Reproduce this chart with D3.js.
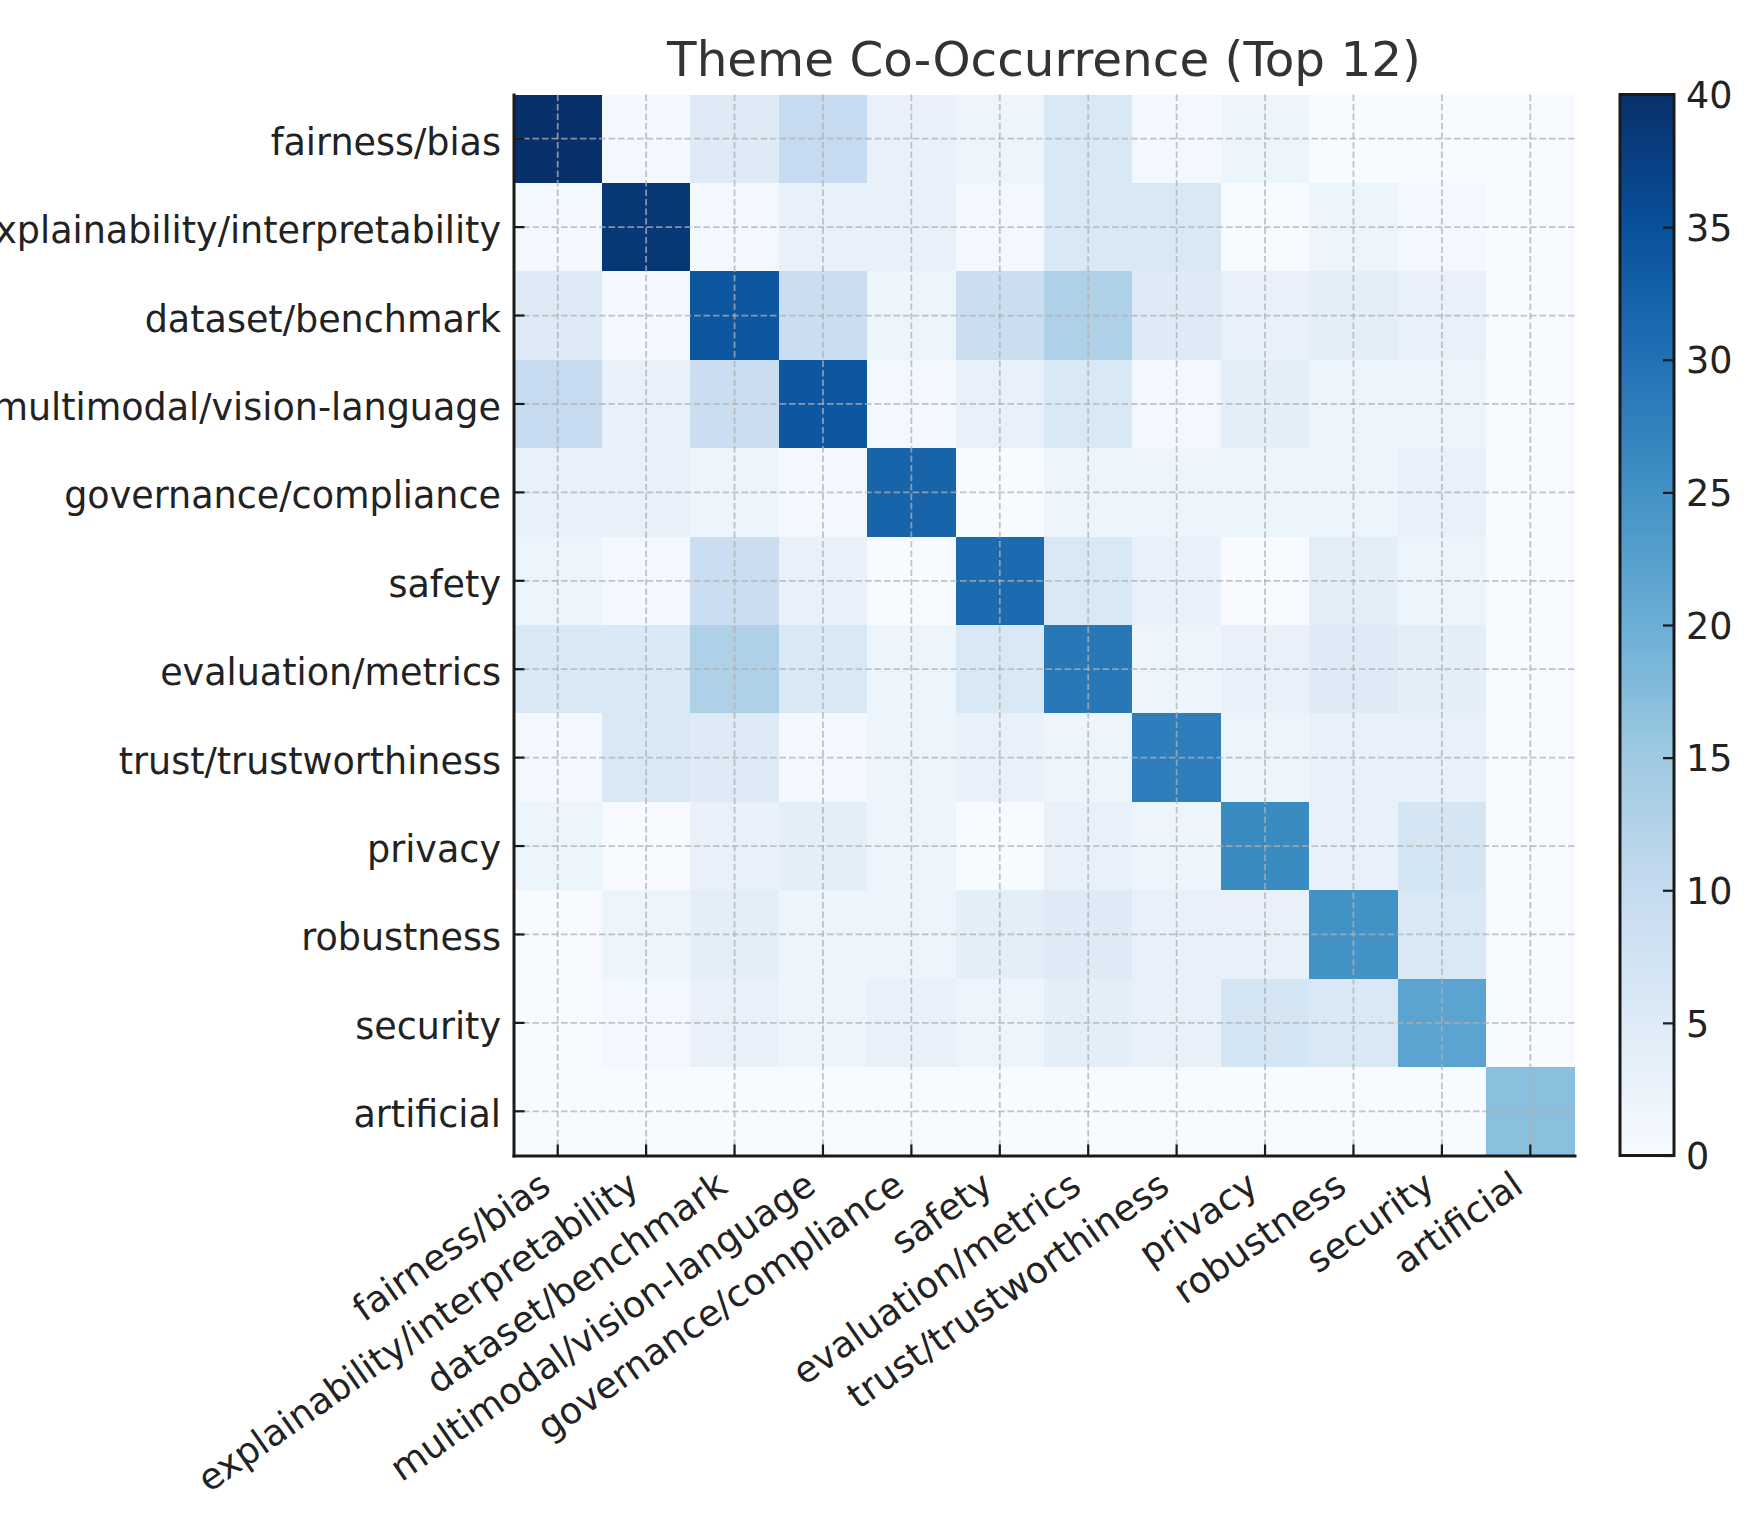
<!DOCTYPE html>
<html>
<head>
<meta charset="utf-8">
<script src="https://cdn.jsdelivr.net/npm/d3@7"></script>
<style>
  body { margin: 0; background: #ffffff; }
  svg { display: block; }
  text { font-family: "DejaVu Sans", "Noto Sans", sans-serif; }
</style>
</head>
<body>
<div id="chart"></div>
<script>
// ---------------- data ----------------
const titleText = "Theme Co-Occurrence (Top 12)";
const themes = [
  "fairness/bias",
  "explainability/interpretability",
  "dataset/benchmark",
  "multimodal/vision-language",
  "governance/compliance",
  "safety",
  "evaluation/metrics",
  "trust/trustworthiness",
  "privacy",
  "robustness",
  "security",
  "artificial"
];
// co-occurrence counts, row = y theme, column = x theme
const coOccurrence = [
  [40,  1,  5, 10,  3,  2,  6,  1,  2,  0,  0,  0],
  [ 1, 39,  1,  3,  3,  1,  6,  6,  0,  2,  1,  0],
  [ 5,  1, 34,  9,  2,  9, 13,  5,  3,  4,  3,  0],
  [10,  3,  9, 34,  1,  3,  6,  1,  4,  2,  2,  0],
  [ 3,  3,  2,  1, 32,  0,  2,  2,  2,  2,  3,  0],
  [ 2,  1,  9,  3,  0, 31,  6,  3,  0,  4,  2,  0],
  [ 6,  6, 13,  6,  2,  6, 29,  2,  3,  5,  4,  0],
  [ 1,  6,  5,  1,  2,  3,  2, 28,  2,  3,  3,  0],
  [ 2,  0,  3,  4,  2,  0,  3,  2, 26,  3,  7,  0],
  [ 0,  2,  4,  2,  2,  4,  5,  3,  3, 25,  6,  0],
  [ 0,  1,  3,  2,  3,  2,  4,  3,  7,  6, 22,  0],
  [ 0,  0,  0,  0,  0,  0,  0,  0,  0,  0,  0, 17]
];
const colorDomain = [0, 40];
const colorbarTicks = [0, 5, 10, 15, 20, 25, 30, 35, 40];
// matplotlib "Blues" anchor colours
const bluesAnchors = ["#f7fbff","#deebf7","#c6dbef","#9ecae1","#6baed6","#4292c6","#2171b5","#08519c","#08306b"];

// ---------------- layout ----------------
const W = 1760, H = 1540;
const plot = { left: 513.5, top: 94.5, size: 1061 };
const cbar = { left: 1620, width: 54 };
const fs = 36.5;          // tick label font size
const textColor = "#222222";

const svg = d3.select("#chart").append("svg")
  .attr("width", W).attr("height", H)
  .attr("viewBox", `0 0 ${W} ${H}`);

svg.append("rect").attr("width", W).attr("height", H).attr("fill", "#ffffff");

const x = d3.scaleBand().domain(themes).range([plot.left, plot.left + plot.size]);
const y = d3.scaleBand().domain(themes).range([plot.top, plot.top + plot.size]);

const anchorVals = bluesAnchors.map((_, i) => colorDomain[0] + (colorDomain[1] - colorDomain[0]) * i / (bluesAnchors.length - 1));
const color = d3.scaleLinear().domain(anchorVals).range(bluesAnchors)
  .interpolate(d3.interpolateRgb).clamp(true);

// ---------------- cells ----------------
const cells = [];
coOccurrence.forEach((row, i) => row.forEach((v, j) => cells.push({ r: themes[i], c: themes[j], v })));

svg.append("g").attr("shape-rendering", "crispEdges")
  .selectAll("rect").data(cells).join("rect")
  .attr("x", d => x(d.c))
  .attr("y", d => y(d.r))
  .attr("width", x.bandwidth() + 0.6)
  .attr("height", y.bandwidth() + 0.6)
  .attr("fill", d => color(d.v));

// ---------------- grid ----------------
const grid = svg.append("g")
  .attr("stroke", "#b0b0b0").attr("stroke-opacity", 0.75)
  .attr("stroke-width", 1.8).attr("stroke-dasharray", "6.6,2.9");
grid.selectAll("line.v").data(themes).join("line").attr("class", "v")
  .attr("x1", d => x(d) + x.bandwidth() / 2).attr("x2", d => x(d) + x.bandwidth() / 2)
  .attr("y1", plot.top).attr("y2", plot.top + plot.size);
grid.selectAll("line.h").data(themes).join("line").attr("class", "h")
  .attr("y1", d => y(d) + y.bandwidth() / 2).attr("y2", d => y(d) + y.bandwidth() / 2)
  .attr("x1", plot.left).attr("x2", plot.left + plot.size);

// ---------------- axes ----------------
const tickLen = 11, tickPad = 12.5, rot = 35;
const rad = rot * Math.PI / 180;
const asc = 0.76 * fs, desc = 0.236 * fs;

const xAxis = svg.append("g")
  .attr("transform", `translate(0,${plot.top + plot.size})`)
  .call(d3.axisBottom(x).tickSizeInner(-tickLen).tickSizeOuter(0));
const yAxis = svg.append("g")
  .attr("transform", `translate(${plot.left},0)`)
  .call(d3.axisLeft(y).tickSizeInner(-tickLen).tickSizeOuter(0));

[xAxis, yAxis].forEach(a => {
  a.select(".domain").attr("stroke", "#1a1a1a").attr("stroke-width", 3).attr("stroke-linecap", "square");
  a.selectAll(".tick line").attr("stroke", "#1a1a1a").attr("stroke-width", 2.2);
  a.selectAll(".tick text").attr("font-size", fs).attr("fill", textColor)
    .attr("font-family", '"DejaVu Sans", sans-serif');
});

// x labels: rotated, right-aligned (bbox top-right at tick)
const ox = -Math.sin(rad) * desc;
const oy = tickPad + Math.cos(rad) * asc;
xAxis.selectAll(".tick text")
  .attr("text-anchor", "end")
  .attr("x", ox).attr("y", oy).attr("dy", null)
  .attr("transform", `rotate(${-rot},${ox},${oy})`);

yAxis.selectAll(".tick text")
  .attr("text-anchor", "end")
  .attr("x", -tickPad).attr("dy", null)
  .attr("y", 16);

// ---------------- title ----------------
svg.append("text")
  .attr("x", plot.left + plot.size / 2).attr("y", 76)
  .attr("text-anchor", "middle")
  .attr("font-size", 48.4).attr("fill", "#333333")
  .text(titleText);

// ---------------- colorbar ----------------
const cScale = d3.scaleLinear().domain(colorDomain).range([plot.top + plot.size, plot.top]);
const defs = svg.append("defs");
const grad = defs.append("linearGradient").attr("id", "cbgrad")
  .attr("x1", 0).attr("y1", 1).attr("x2", 0).attr("y2", 0);
d3.range(0, 101).forEach(k => {
  const v = colorDomain[0] + (colorDomain[1] - colorDomain[0]) * k / 100;
  grad.append("stop").attr("offset", (k) + "%").attr("stop-color", color(v));
});
svg.append("rect")
  .attr("x", cbar.left).attr("y", plot.top)
  .attr("width", cbar.width).attr("height", plot.size)
  .attr("fill", "url(#cbgrad)");

const cAxis = svg.append("g")
  .attr("transform", `translate(${cbar.left + cbar.width},0)`)
  .call(d3.axisRight(cScale).tickValues(colorbarTicks).tickFormat(d3.format("d"))
    .tickSizeInner(-tickLen).tickSizeOuter(0).tickPadding(12));
cAxis.select(".domain").remove();
cAxis.selectAll(".tick line").attr("stroke", "#1a1a1a").attr("stroke-width", 2.2);
cAxis.selectAll(".tick text").attr("font-size", fs).attr("fill", textColor)
  .attr("font-family", '"DejaVu Sans", sans-serif')
  .attr("dy", "0.36em");

svg.append("rect")
  .attr("x", cbar.left).attr("y", plot.top)
  .attr("width", cbar.width).attr("height", plot.size)
  .attr("fill", "none").attr("stroke", "#1a1a1a").attr("stroke-width", 3);
</script>
</body>
</html>
